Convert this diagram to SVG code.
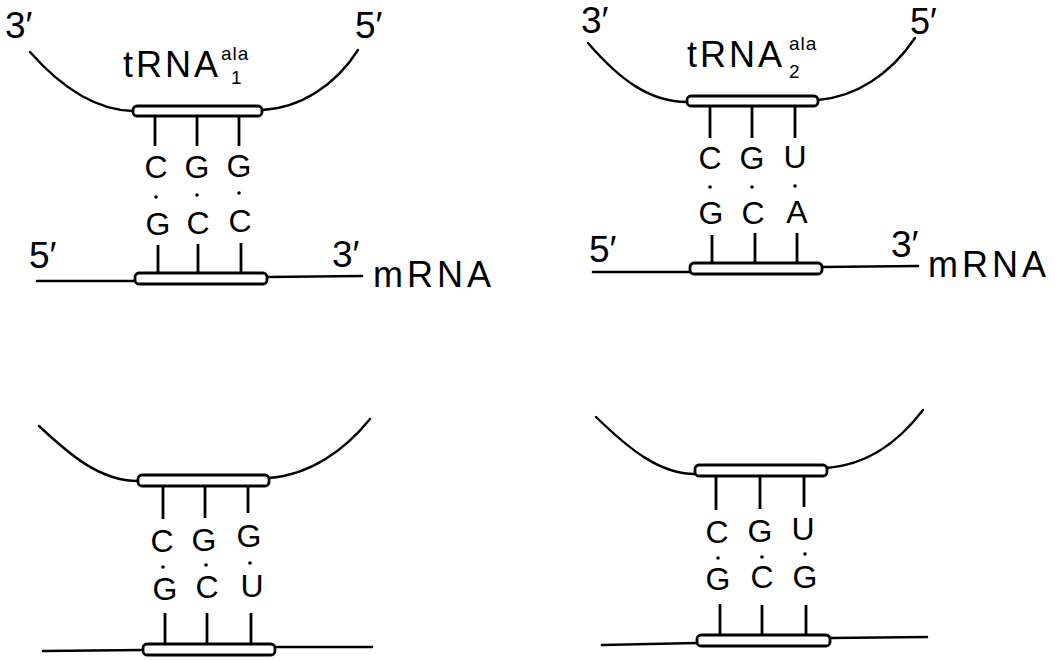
<svg xmlns="http://www.w3.org/2000/svg" width="1055" height="660" viewBox="0 0 1055 660">
<style>
.bg{fill:#fff}
.curve{fill:none;stroke:#000;stroke-width:2.4;stroke-linecap:round}
.line{fill:none;stroke:#000;stroke-width:2.6;stroke-linecap:round}
.tick{stroke:#000;stroke-width:2.8;stroke-linecap:butt}
.box{fill:#fff;stroke:#000;stroke-width:2.8}
.base{font-family:"Liberation Sans",Arial,sans-serif;font-size:32px;text-anchor:middle;fill:#000}
.end{font-family:"Liberation Sans",Arial,sans-serif;font-size:37px;fill:#000}
.lab{font-family:"Liberation Sans",Arial,sans-serif;font-size:36px;fill:#000;letter-spacing:3px}
.mr{font-family:"Liberation Sans",Arial,sans-serif;font-size:36px;fill:#000;letter-spacing:4px}
.sup{font-family:"Liberation Sans",Arial,sans-serif;font-size:19px;fill:#000;letter-spacing:1px}
.dot{fill:#000}
</style>
<rect class="bg" x="0" y="0" width="1055" height="660"/>

<!-- Panel 1 -->
<g id="panel1">
  <g id="p1-trna">
    <path class="curve" d="M30,52 C60,86 95,110 133,111"/>
    <path class="curve" d="M262,110 C300,108 335,86 358,50"/>
    <rect class="box" x="133" y="106" width="129" height="10" rx="4"/>
    <text class="end" x="5" y="38">3′</text>
    <text class="end" x="355" y="38">5′</text>
    <text class="lab" x="123" y="77">tRNA</text>
    <text class="sup" x="221" y="60">ala</text>
    <text class="sup" x="231" y="84">1</text>
  </g>
  <g id="p1-mrna">
    <path class="line" d="M37,281 L135,281"/>
    <path class="line" d="M267,277 L362,276"/>
    <rect class="box" x="135" y="273" width="132" height="11" rx="4"/>
    <text class="end" x="29" y="268">5′</text>
    <text class="end" x="332" y="267">3′</text>
    <text class="mr" x="373" y="287">mRNA</text>
  </g>
  <g id="p1-bases">
    <text class="base" x="156" y="178">C</text>
    <text class="base" x="197" y="178">G</text>
    <text class="base" x="239" y="177">G</text>
    <circle class="dot" cx="156" cy="197" r="1.8"/>
    <circle class="dot" cx="197" cy="195" r="1.8"/>
    <circle class="dot" cx="239" cy="193" r="1.8"/>
    <text class="base" x="158" y="235">G</text>
    <text class="base" x="198" y="234">C</text>
    <text class="base" x="240" y="232">C</text>
  </g>
</g>

<!-- Panel 2 -->
<g id="panel2">
  <g id="p2-trna">
    <path class="curve" d="M588,43 C620,80 650,102 687,102"/>
    <path class="curve" d="M818,100 C855,97 890,75 915,38"/>
    <rect class="box" x="687" y="96" width="131" height="10" rx="4"/>
    <text class="end" x="581" y="33">3′</text>
    <text class="end" x="910" y="34" style="font-size:36px">5′</text>
    <text class="lab" x="687" y="67">tRNA</text>
    <text class="sup" x="789" y="50">ala</text>
    <text class="sup" x="789" y="78">2</text>
  </g>
  <g id="p2-mrna">
    <path class="line" d="M593,272 L690,272"/>
    <path class="line" d="M822,267 L918,266"/>
    <rect class="box" x="690" y="263" width="132" height="11" rx="4"/>
    <text class="end" x="589" y="262">5′</text>
    <text class="end" x="891" y="257">3′</text>
    <text class="mr" x="928" y="277">mRNA</text>
  </g>
  <g id="p2-bases">
    <text class="base" x="710" y="169">C</text>
    <text class="base" x="752" y="169">G</text>
    <text class="base" x="795" y="168">U</text>
    <circle class="dot" cx="710" cy="187" r="1.8"/>
    <circle class="dot" cx="752" cy="187" r="1.8"/>
    <circle class="dot" cx="795" cy="186" r="1.8"/>
    <text class="base" x="711" y="224">G</text>
    <text class="base" x="753" y="224">C</text>
    <text class="base" x="797" y="223">A</text>
  </g>
</g>

<!-- Panel 3 -->
<g id="panel3">
  <g id="p3-trna">
    <path class="curve" d="M39,426 C70,455 100,481 138,481"/>
    <path class="curve" d="M269,478 C310,475 345,450 370,419"/>
    <rect class="box" x="138" y="475" width="131" height="11" rx="4"/>
  </g>
  <g id="p3-mrna">
    <path class="line" d="M43,651 L143,650"/>
    <path class="line" d="M277,647 L372,647"/>
    <rect class="box" x="143" y="644" width="132" height="11" rx="4"/>
  </g>
  <g id="p3-bases">
    <text class="base" x="162" y="552">C</text>
    <text class="base" x="204" y="551">G</text>
    <text class="base" x="249" y="547">G</text>
    <circle class="dot" cx="163" cy="567" r="1.8"/>
    <circle class="dot" cx="206" cy="565" r="1.8"/>
    <circle class="dot" cx="250" cy="563" r="1.8"/>
    <text class="base" x="165" y="600">G</text>
    <text class="base" x="207" y="598">C</text>
    <text class="base" x="252" y="597">U</text>
  </g>
</g>

<!-- Panel 4 -->
<g id="panel4">
  <g id="p4-trna">
    <path class="curve" d="M596,417 C630,450 660,474 695,474"/>
    <path class="curve" d="M826,468 C870,465 900,440 923,410"/>
    <rect class="box" x="695" y="465" width="132" height="11" rx="4"/>
  </g>
  <g id="p4-mrna">
    <path class="line" d="M602,645 L697,643"/>
    <path class="line" d="M830,638 L927,637"/>
    <rect class="box" x="697" y="635" width="133" height="11" rx="4"/>
  </g>
  <g id="p4-bases">
    <text class="base" x="717" y="543">C</text>
    <text class="base" x="760" y="542">G</text>
    <text class="base" x="803" y="540">U</text>
    <circle class="dot" cx="718" cy="558" r="1.8"/>
    <circle class="dot" cx="762" cy="557" r="1.8"/>
    <circle class="dot" cx="805" cy="554" r="1.8"/>
    <text class="base" x="718" y="590">G</text>
    <text class="base" x="762" y="588">C</text>
    <text class="base" x="805" y="588">G</text>
  </g>
</g>

<!-- connectors: base-pair ticks -->
<g id="connectors">
  <line class="tick" x1="155" y1="116" x2="155" y2="146"/>
  <line class="tick" x1="197" y1="116" x2="197" y2="146"/>
  <line class="tick" x1="239" y1="116" x2="239" y2="146"/>
  <line class="tick" x1="158" y1="245" x2="158" y2="273"/>
  <line class="tick" x1="198" y1="244" x2="198" y2="273"/>
  <line class="tick" x1="241" y1="243" x2="241" y2="273"/>

  <line class="tick" x1="710" y1="106" x2="710" y2="138"/>
  <line class="tick" x1="752" y1="106" x2="752" y2="138"/>
  <line class="tick" x1="795" y1="106" x2="795" y2="138"/>
  <line class="tick" x1="712" y1="235" x2="712" y2="263"/>
  <line class="tick" x1="755" y1="233" x2="755" y2="263"/>
  <line class="tick" x1="797" y1="233" x2="797" y2="263"/>

  <line class="tick" x1="163" y1="486" x2="163" y2="519"/>
  <line class="tick" x1="205" y1="486" x2="205" y2="518"/>
  <line class="tick" x1="248" y1="486" x2="248" y2="513"/>
  <line class="tick" x1="165" y1="613" x2="165" y2="644"/>
  <line class="tick" x1="207" y1="613" x2="207" y2="644"/>
  <line class="tick" x1="251" y1="613" x2="251" y2="643"/>

  <line class="tick" x1="716" y1="476" x2="716" y2="510"/>
  <line class="tick" x1="760" y1="476" x2="760" y2="509"/>
  <line class="tick" x1="804" y1="476" x2="804" y2="507"/>
  <line class="tick" x1="720" y1="604" x2="720" y2="635"/>
  <line class="tick" x1="762" y1="605" x2="762" y2="635"/>
  <line class="tick" x1="806" y1="605" x2="806" y2="635"/>
</g>
</svg>
